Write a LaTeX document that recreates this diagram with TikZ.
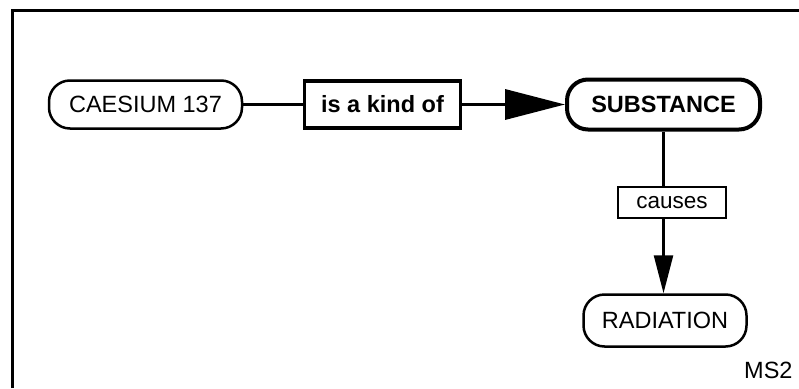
\documentclass[tikz,border=0pt]{standalone}
\usepackage{fontspec}
\setmainfont{Liberation Sans}
\usetikzlibrary{arrows.meta}
\begin{document}
\begin{tikzpicture}[x=1pt,y=-1pt,
  every node/.style={font=\fontsize{23.5}{27}\selectfont, inner sep=0pt, align=center},
  concept/.style={draw, rounded corners=21pt},
  relbox/.style={draw},
  conn/.style={line width=3.5pt},
  bigtip/.style={-{Triangle[length=60pt,width=30pt]}},
  smalltip/.style={-{Triangle[length=38pt,width=19pt]}}]
\useasboundingbox (0,0) rectangle (799,388);
\draw[line width=3pt] (12.5,388) -- (12.5,10) -- (799,10);
\node[concept, line width=2.5pt, minimum width=193pt, minimum height=48pt] (cs) at (145.5,104.5) {CAESIUM 137};
\node[relbox, line width=3.5pt, minimum width=156pt, minimum height=47pt, font=\fontsize{23.5}{27}\selectfont\bfseries] (kind) at (382.5,104.5) {is a kind of};
\node[concept, line width=4pt, minimum width=193pt, minimum height=50pt, font=\fontsize{23.5}{27}\selectfont\bfseries] (subst) at (663.5,104.5) {SUBSTANCE};
\node[relbox, line width=2pt, minimum width=108pt, minimum height=31pt, font=\fontsize{22.5}{26}\selectfont] (causes) at (672,202.5) {causes};
\node[concept, line width=2.5pt, minimum width=163pt, minimum height=52pt] (rad) at (665,320.5) {RADIATION};
\node[anchor=west] (ms) at (744,370) {MS2};
\draw[conn] (cs) -- (kind);
\draw[conn, bigtip] (kind) -- (subst);
\draw[line width=2.5pt] (subst.south) -- (subst.south |- causes.north);
\draw[line width=2.5pt, smalltip] (causes.south -| subst.south) -- (rad.north -| subst.south);
\end{tikzpicture}
\end{document}
